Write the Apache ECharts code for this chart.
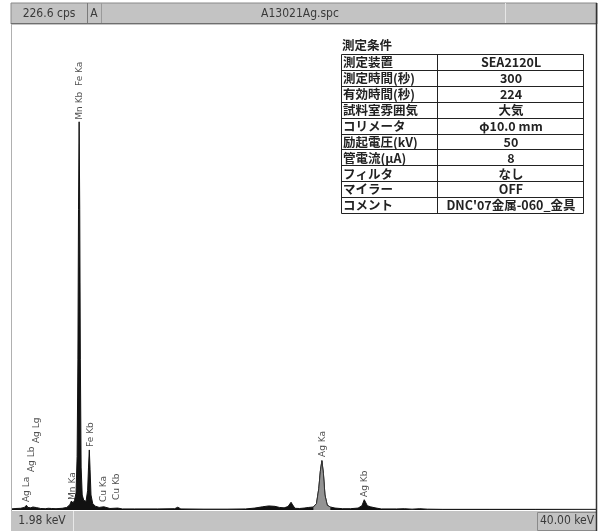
<!DOCTYPE html>
<html><head><meta charset="utf-8">
<script src="https://cdn.jsdelivr.net/npm/echarts@6/dist/echarts.min.js"></script>
<style>html,body{margin:0;padding:0;background:#fff}#c{width:600px;height:531px}</style>
</head><body><div id="c"></div>
<script>
// ---- data ----
const xRange = [1.98, 40.00];          // keV
const yMax = 226.6;                    // cps
const headerTexts = ['226.6 cps', 'A', 'A13021Ag.spc'];
const footerTexts = ['1.98 keV', '40.00 keV'];

const energy = [1.98, 2.3, 2.6, 2.85, 2.98, 3.08, 3.16, 3.26, 3.4, 3.52, 3.65, 3.9, 4.2, 4.4, 4.5, 4.6, 4.9, 5.3, 5.6, 5.8, 5.9, 6.0, 6.1, 6.2, 6.27, 6.32, 6.36, 6.40, 6.44, 6.48, 6.53, 6.6, 6.7, 6.85, 6.95, 7.01, 7.06, 7.11, 7.17, 7.28, 7.45, 7.7, 8.0, 8.1, 8.4, 8.9, 9.2, 10.0, 11.5, 12.6, 12.8, 13.0, 14.5, 16.0, 17.2, 17.8, 18.3, 18.7, 19.1, 19.4, 19.7, 19.95, 20.15, 20.25, 20.4, 20.7, 21.0, 21.3, 21.6, 21.8, 21.95, 22.05, 22.15, 22.25, 22.35, 22.5, 22.7, 23.0, 23.5, 24.0, 24.5, 24.75, 24.9, 25.0, 25.1, 25.3, 25.6, 26.0, 27.0, 27.5, 28.0, 28.5, 29.0, 30.0, 33.0, 36.0, 40.0];
const counts = [0.5, 0.7, 0.8, 1.2, 2.2, 1.2, 1.6, 1.0, 1.4, 1.0, 1.1, 0.7, 0.6, 0.8, 1.6, 0.7, 0.6, 0.8, 1.2, 2.5, 4.2, 3.2, 4.5, 8, 25, 70, 140, 181, 140, 70, 20, 7, 4.5, 4.0, 9, 20, 28, 19, 7, 3, 1.8, 1.2, 1.5, 0.9, 0.7, 0.9, 0.5, 0.5, 0.5, 0.6, 1.3, 0.5, 0.4, 0.4, 0.5, 0.9, 1.5, 1.9, 1.7, 1.2, 1.0, 1.6, 3.6, 2.4, 0.8, 0.7, 0.9, 1.2, 1.4, 3.0, 10, 18, 23, 17, 7, 2.2, 1.4, 0.9, 0.6, 0.6, 0.9, 2.0, 4.8, 4.2, 2.0, 1.5, 1.0, 0.5, 0.5, 0.6, 0.4, 0.6, 0.4, 0.3, 0.3, 0.3, 0.3];
const roiRange = [21.6, 22.7];         // Ag Ka highlighted region

const peakNames = ['Ag La', 'Ag Lb', 'Ag Lg', 'Mn Ka', 'Mn Kb  Fe Ka', 'Fe Kb', 'Cu Ka', 'Cu Kb', 'Ag Ka', 'Ag Kb'];
const peakEnergy = [3.02, 3.34, 3.62, 5.95, 6.46, 7.17, 8.02, 8.86, 22.23, 24.95];
const peakLabelBase = [3.7, 17.7, 31.2, 4.7, 182, 29.4, 3.7, 4.7, 24.7, 6.1];

const condTitle = '測定条件';
const condKeys = ['測定装置', '測定時間(秒)', '有効時間(秒)', '試料室雰囲気', 'コリメータ', '励起電圧(kV)', '管電流(μA)', 'フィルタ', 'マイラー', 'コメント'];
const condVals = ['SEA2120L', '300', '224', '大気', 'φ10.0 mm', '50', '8', 'なし', 'OFF', "DNC'07金属-060_金具"];

// ---- build ----
const spec = energy.map((e, i) => [e, counts[i]]);
const roi = spec.filter(p => p[0] >= roiRange[0] && p[0] <= roiRange[1]);
const labels = peakNames.map((n, i) => ({ name: n, value: [peakEnergy[i], peakLabelBase[i]] }));

const G = '#c3c3c3', TXT = '#3a3a3a', JP = '"Noto Sans CJK JP", sans-serif';
const NARROW = '12px "Liberation Sans Narrow","DejaVu Sans Condensed",sans-serif';
const graphic = [];
// header bar
graphic.push({ type: 'rect', shape: { x: 11, y: 3, width: 586, height: 21 }, style: { fill: G, stroke: '#8a8a8a', lineWidth: 1 }, z: 1 });
[[87, '#7a7a7a'], [101, '#9a9a9a'], [505, '#e6e6e6']].forEach(d => graphic.push({ type: 'line', shape: { x1: d[0] + 0.5, y1: 3, x2: d[0] + 0.5, y2: 24 }, style: { stroke: d[1], lineWidth: 1 }, z: 2 }));
graphic.push({ type: 'line', shape: { x1: 11, y1: 23.5, x2: 597, y2: 23.5 }, style: { stroke: '#6e6e6e', lineWidth: 1 }, z: 2 });
graphic.push({ type: 'text', x: 49, y: 13.5, style: { text: headerTexts[0], fill: TXT, font: NARROW, textAlign: 'center', textVerticalAlign: 'middle' }, z: 3 });
graphic.push({ type: 'text', x: 94, y: 13.5, style: { text: headerTexts[1], fill: TXT, font: NARROW, textAlign: 'center', textVerticalAlign: 'middle' }, z: 3 });
graphic.push({ type: 'text', x: 300, y: 13.5, style: { text: headerTexts[2], fill: TXT, font: NARROW, textAlign: 'center', textVerticalAlign: 'middle' }, z: 3 });
// footer bar
graphic.push({ type: 'rect', shape: { x: 11, y: 511, width: 586, height: 20 }, style: { fill: G, stroke: null }, z: 1 });
graphic.push({ type: 'line', shape: { x1: 73.5, y1: 511, x2: 73.5, y2: 531 }, style: { stroke: '#e8e8e8', lineWidth: 1 }, z: 2 });
graphic.push({ type: 'rect', shape: { x: 537.5, y: 512.5, width: 59, height: 18 }, style: { fill: G, stroke: '#8a8a8a', lineWidth: 1 }, z: 2 });
graphic.push({ type: 'text', x: 42, y: 521, style: { text: footerTexts[0], fill: TXT, font: NARROW, textAlign: 'center', textVerticalAlign: 'middle' }, z: 3 });
graphic.push({ type: 'text', x: 567, y: 521, style: { text: footerTexts[1], fill: TXT, font: NARROW, textAlign: 'center', textVerticalAlign: 'middle' }, z: 3 });
// plot frame
graphic.push({ type: 'line', shape: { x1: 596.5, y1: 3, x2: 596.5, y2: 531 }, style: { stroke: '#333', lineWidth: 1.5 }, z: 4 });
graphic.push({ type: 'line', shape: { x1: 11.5, y1: 24, x2: 11.5, y2: 511 }, style: { stroke: '#b0b0b0', lineWidth: 1 }, z: 4 });
// conditions table
const tx0 = 341, tx1 = 437, tx2 = 583, ty0 = 54, rh = 15.9;
const TF = 'bold 12.5px ' + JP;
graphic.push({ type: 'text', x: 342, y: 45, style: { text: condTitle, fill: '#222', font: TF, textAlign: 'left', textVerticalAlign: 'middle' }, z: 5 });
graphic.push({ type: 'rect', shape: { x: tx0 + 0.5, y: ty0 + 0.5, width: tx2 - tx0, height: rh * condKeys.length }, style: { fill: '#fff', stroke: '#222', lineWidth: 1 }, z: 5 });
graphic.push({ type: 'line', shape: { x1: tx1 + 0.5, y1: ty0, x2: tx1 + 0.5, y2: ty0 + rh * condKeys.length }, style: { stroke: '#222', lineWidth: 1 }, z: 6 });
condKeys.forEach((k, i) => {
  const y = ty0 + rh * i;
  if (i > 0) graphic.push({ type: 'line', shape: { x1: tx0, y1: Math.round(y) + 0.5, x2: tx2, y2: Math.round(y) + 0.5 }, style: { stroke: '#222', lineWidth: 1 }, z: 6 });
  graphic.push({ type: 'text', x: tx0 + 2, y: y + rh / 2 + 0.5, style: { text: k, fill: '#222', font: TF, textAlign: 'left', textVerticalAlign: 'middle' }, z: 7 });
  graphic.push({ type: 'text', x: (tx1 + tx2) / 2 + 1, y: y + rh / 2 + 0.5, style: { text: condVals[i], fill: '#222', font: TF, textAlign: 'center', textVerticalAlign: 'middle' }, z: 7 });
});

const chart = echarts.init(document.getElementById('c'), null, { renderer: 'canvas' });
chart.setOption({
  animation: false,
  backgroundColor: '#fff',
  grid: { left: 11, right: 3, top: 24, bottom: 21 },
  xAxis: { type: 'value', min: xRange[0], max: xRange[1], show: false },
  yAxis: { type: 'value', min: 0, max: yMax, show: false },
  graphic: graphic,
  series: [
    { type: 'line', data: spec, symbol: 'none', lineStyle: { color: '#111', width: 1 }, areaStyle: { color: '#111', opacity: 1 }, z: 2 },
    { type: 'line', data: roi, symbol: 'none', lineStyle: { color: '#333', width: 1 }, areaStyle: { color: '#939393', opacity: 1 }, z: 3 },
    { type: 'scatter', data: labels, symbolSize: 0, z: 4,
      label: { show: true, formatter: p => p.name, position: [0, 0], rotate: 90, align: 'left', verticalAlign: 'middle',
        color: '#222', fontSize: 9, fontFamily: '"DejaVu Sans",sans-serif' } }
  ]
});
</script></body></html>
